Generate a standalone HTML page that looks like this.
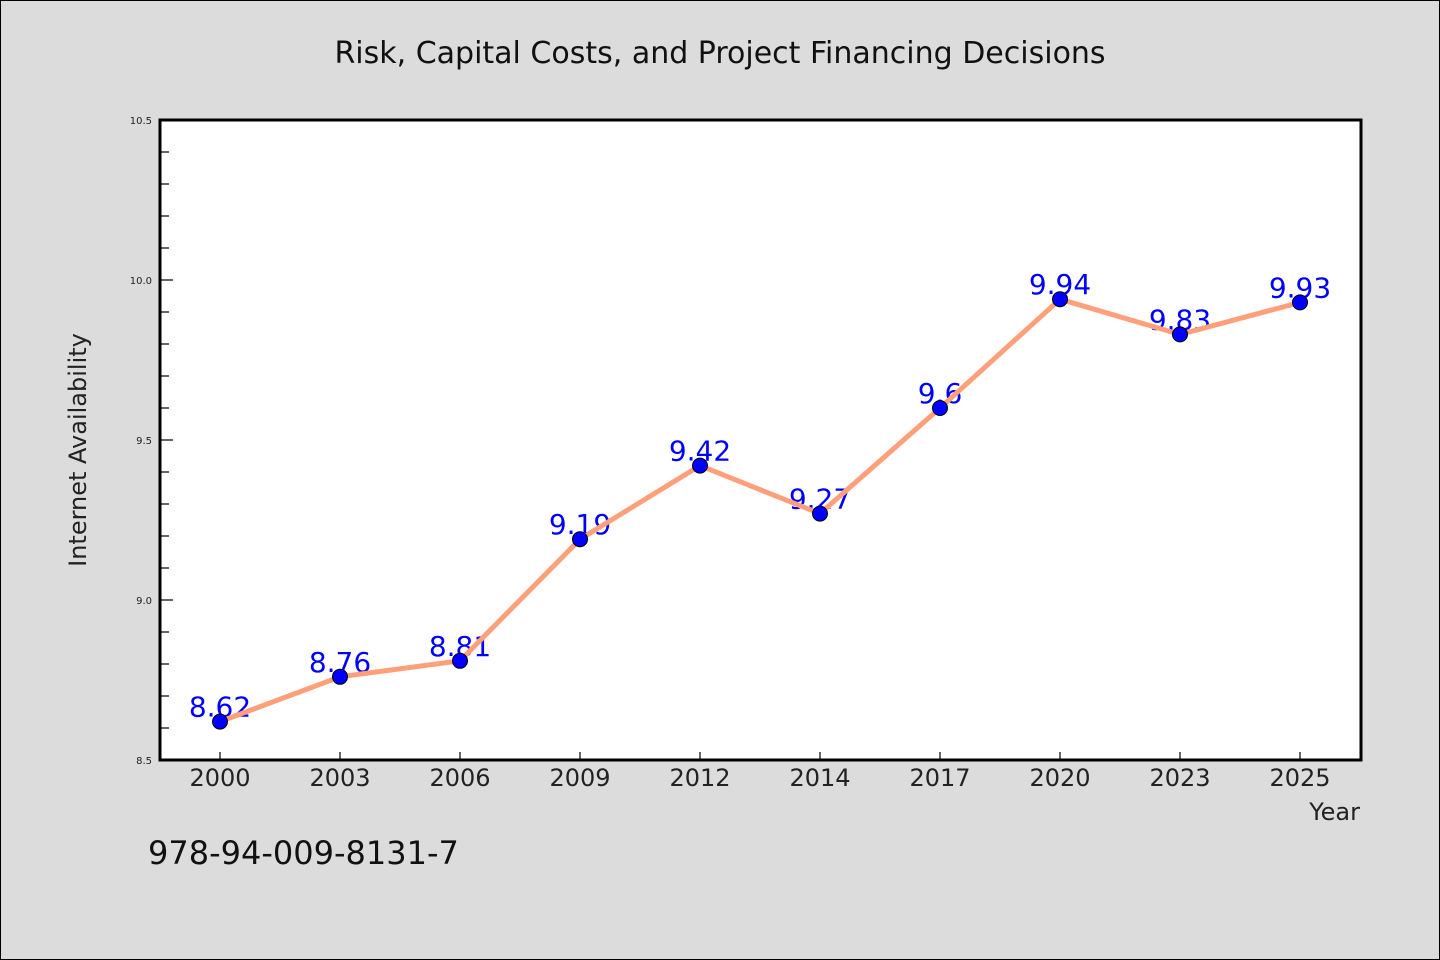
<!DOCTYPE html>
<html><head><meta charset="utf-8"><style>
body{margin:0;background:#dcdcdc;}
svg{display:block;font-family:"WenQuanYi Zen Hei","DejaVu Sans",sans-serif;}
</style></head><body>
<svg width="1440" height="960" xmlns="http://www.w3.org/2000/svg">
<rect x="0.5" y="0.5" width="1439" height="959" fill="#dcdcdc" stroke="#000"/>
<text x="720" y="63" text-anchor="middle" font-size="30" fill="#111">Risk, Capital Costs, and Project Financing Decisions</text>
<rect x="160" y="120" width="1201" height="640" fill="#fff"/>
<g id="g"></g>
<rect x="160" y="120" width="1201" height="640" fill="none" stroke="#000" stroke-width="3"/>
<text x="86" y="450" transform="rotate(-90 86 450)" text-anchor="middle" font-size="24" fill="#222">Internet Availability</text>
<text x="1360" y="820" text-anchor="end" font-size="24" fill="#222">Year</text>
<text x="148" y="864" font-size="32" fill="#111">978-94-009-8131-7</text>
</svg>
<script>
const categories=["2000","2003","2006","2009","2012","2014","2017","2020","2023","2025"];
const values=[8.62,8.76,8.81,9.19,9.42,9.27,9.6,9.94,9.83,9.93];
const labels=["8.62","8.76","8.81","9.19","9.42","9.27","9.6","9.94","9.83","9.93"];
const yTicks=["8.5","9.0","9.5","10.0","10.5"];
const yMin=8.5,yMax=10.5;
const NS="http://www.w3.org/2000/svg";
const g=document.getElementById('g');
const x=i=>220+i*120;
const y=v=>760-(v-yMin)/(yMax-yMin)*640;
function mk(t,a){const e=document.createElementNS(NS,t);for(const k in a)e.setAttribute(k,a[k]);g.appendChild(e);return e;}
for(let k=0;k<=20;k++){const v=yMin+k*0.1;const major=k%5==0;
 const t=mk('line',{x1:160,x2:major?173:169,y1:y(v),y2:y(v),stroke:'#000','stroke-width':1.2});
 
 }
yTicks.forEach(s=>{const t=mk('text',{x:152,y:y(+s)+4,'text-anchor':'end','font-size':10,fill:'#222'});t.textContent=s;
 
 });
categories.forEach((c,i)=>{const l=mk('line',{x1:x(i),x2:x(i),y1:760,y2:752,stroke:'#000','stroke-width':1.2});
 
 
 const t=mk('text',{x:x(i),y:786,'text-anchor':'middle','font-size':24,fill:'#222'});t.textContent=c;
 
 });
values.forEach((v,i)=>{const t=mk('text',{x:x(i),y:y(v)-5,'text-anchor':'middle','font-size':28,fill:'#0000ff'});t.textContent=labels[i];
 
 });
const pl=mk('polyline',{points:values.map((v,i)=>x(i)+','+y(v)).join(' '),fill:'none',stroke:'#ffa07a','stroke-width':5,'stroke-linejoin':'round'});


values.forEach((v,i)=>{const c=mk('circle',{cx:x(i),cy:y(v),r:7.5,fill:'#0000ff',stroke:'#000','stroke-width':1});
 
 });
</script>
</body></html>
